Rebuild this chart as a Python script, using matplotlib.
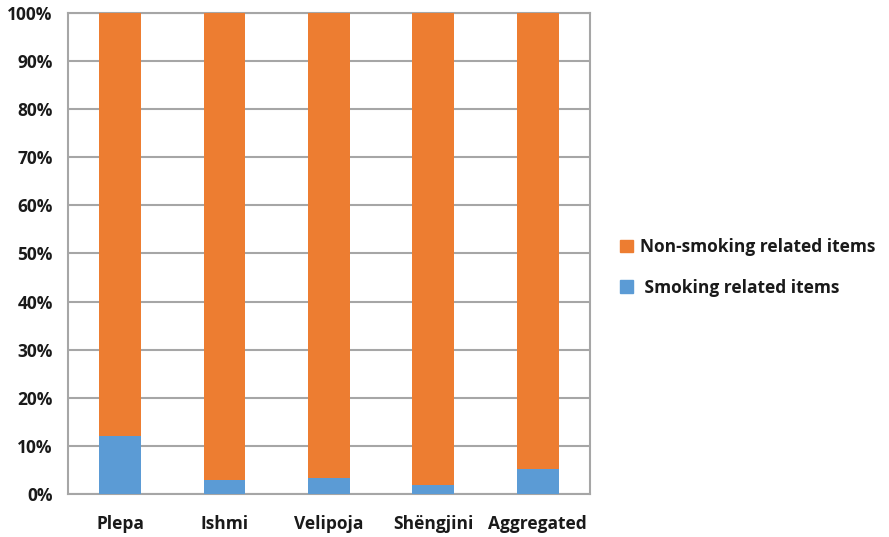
import numpy as np
import matplotlib.pyplot as plt
from matplotlib.patches import Patch

plt.rcParams['font.family'] = ['Open Sans', 'DejaVu Sans']

sites = ['Plepa', 'Ishmi', 'Velipoja', 'Shëngjini', 'Aggregated']
smoking = [12.0, 3.0, 3.4, 1.8, 5.2]
non_smoking = [100 - v for v in smoking]

orange = '#ED7D31'
blue = '#5B9BD5'
gris = '#a6a6a6'

fig = plt.figure(figsize=(8.89, 5.37), dpi=100)
ax = fig.add_axes([0.0765, 0.080, 0.587, 0.896])

x = np.arange(len(sites))
ax.bar(x, smoking, width=0.4, color=blue, zorder=3)
ax.bar(x, non_smoking, width=0.4, bottom=smoking, color=orange, zorder=3)

ax.set_xlim(-0.5, len(sites) - 0.5)
ax.set_ylim(0, 100)
ax.set_yticks(np.arange(0, 101, 10))
ax.set_yticklabels(['%d%%' % v for v in range(0, 101, 10)])
ax.set_xticks(x)
ax.set_xticklabels(sites)
ax.yaxis.grid(True, color=gris, linewidth=1.5, zorder=0)
for s in ax.spines.values():
    s.set_color(gris)
    s.set_linewidth(1.5)
ax.tick_params(length=0, labelsize=12.5, colors='#1a1a1a')
ax.tick_params(axis='y', pad=11)
ax.tick_params(axis='x', pad=15)
for lbl in ax.get_xticklabels() + ax.get_yticklabels():
    lbl.set_fontweight('bold')

handles = [Patch(color=orange), Patch(color=blue)]
fig.legend(handles, ['Non-smoking related items', ' Smoking related items'],
           loc='center left', bbox_to_anchor=(0.68, 0.502), frameon=False,
           prop={'weight': 'bold', 'size': 12.5}, handlelength=0.75,
           handleheight=0.75, handletextpad=0.4, labelspacing=1.3,
           labelcolor='#1a1a1a')

fig.savefig('out.png', dpi=100)
